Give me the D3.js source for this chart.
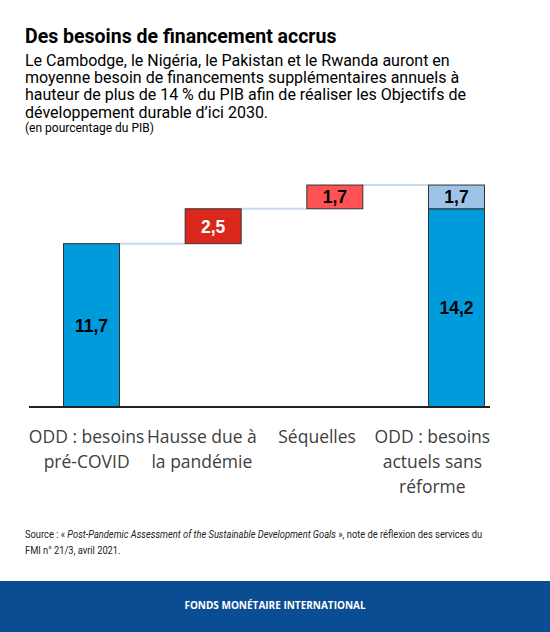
<!DOCTYPE html>
<html>

<head>
    <meta charset="utf-8">
    <title>Des besoins de financement accrus</title>
    <script src="https://d3js.org/d3.v7.min.js"></script>
    <style>
        body {
            margin: 0;
            background: #fff;
        }

        .title {
            font-family: Roboto, sans-serif;
            font-weight: 700;
            font-size: 19.5px;
            fill: #000;
        }

        .subtitle {
            font-family: Roboto, sans-serif;
            font-size: 16px;
            fill: #000;
        }

        .unit {
            font-family: Roboto, sans-serif;
            font-size: 12px;
            fill: #000;
        }

        .catLabel {
            font-family: "Open Sans", sans-serif;
            font-size: 17.5px;
            fill: #404040;
        }

        .barLabel {
            font-family: "Liberation Sans", Arial, sans-serif;
            font-weight: 700;
            font-size: 17.5px;
        }

        .source {
            font-family: Roboto, sans-serif;
            font-size: 10.5px;
            fill: #222;
        }

        .footer {
            font-family: "Open Sans", sans-serif;
            font-weight: 700;
            font-size: 10px;
            fill: #fff;
        }
    </style>
</head>

<body>
    <div id="chart"></div>

    <script>
        const width = 550, height = 632

        // categories and their axis labels (line by line)
        const categories = ["preCovid", "pandemie", "sequelles", "actuels"]
        const categoryLines = [
            ["ODD : besoins", "pré-COVID"],
            ["Hausse due à", "la pandémie"],
            ["Séquelles"],
            ["ODD : besoins", "actuels sans", "réforme"]
        ]
        // waterfall steps (en % du PIB)
        const stepValues = [11.7, 2.5, 1.7]
        const stepColors = ["#009bdb", "#da291c", "#ff5252"]
        const stepTextColors = ["#000", "#fff", "#000"]
        // last bar: stacked parts
        const finalParts = [14.2, 1.7]
        const finalColors = ["#009bdb", "#9dc3e6"]

        const subtitleLines = [
            "Le Cambodge, le Nigéria, le Pakistan et le Rwanda auront en",
            "moyenne besoin de financements supplémentaires annuels à",
            "hauteur de plus de 14 % du PIB afin de réaliser les Objectifs de",
            "développement durable d’ici 2030."
        ]

        const fmt = v => d3.format(".1f")(v).replace(".", ",")

        const svg = d3.select("#chart")
            .append("svg")
            .attr("width", width)
            .attr("height", height)

        // Titles
        svg.append("text").attr("class", "title")
            .attr("x", 25).attr("y", 43)
            .text("Des besoins de financement accrus")

        svg.append("g").selectAll("text")
            .data(subtitleLines)
            .join("text")
            .attr("class", "subtitle")
            .attr("x", 25)
            .attr("y", (d, i) => 65.5 + i * 17.4)
            .text(d => d)

        svg.append("text").attr("class", "unit")
            .attr("x", 25).attr("y", 132)
            .text("(en pourcentage du PIB)")

        // Scales
        const y = d3.scaleLinear()
            .domain([0, 16])
            .range([407, 407 - 16 * 13.96])

        // bars sit on a slightly wider grid than the labels
        const xBar = d3.scalePoint()
            .domain(categories)
            .range([91.5, 456.5])
        const barWidth = 56

        const xLabel = d3.scaleBand()
            .domain(categories)
            .range([29, 490])

        // build the segments
        const segments = []
        let running = 0
        stepValues.forEach((v, i) => {
            const start = i === 0 ? 0 : running
            segments.push({
                cat: categories[i], start: start, end: start + v, value: v,
                color: stepColors[i], textColor: stepTextColors[i]
            })
            running = start + v
        })
        let acc = 0
        finalParts.forEach((v, i) => {
            segments.push({
                cat: categories[3], start: acc, end: acc + v, value: v,
                color: finalColors[i], textColor: "#000"
            })
            acc += v
        })

        // connector lines between bars
        const connectors = []
        running = 0
        stepValues.forEach((v, i) => {
            running += v
            connectors.push({ from: categories[i], to: categories[i + 1], level: running })
        })

        svg.append("g").selectAll("line")
            .data(connectors)
            .join("line")
            .attr("x1", d => xBar(d.from) + barWidth / 2)
            .attr("x2", d => xBar(d.to) - barWidth / 2)
            .attr("y1", d => y(d.level))
            .attr("y2", d => y(d.level))
            .attr("stroke", "#c9d9ee")
            .attr("stroke-width", 2)

        const bars = svg.append("g")
        bars.selectAll("rect")
            .data(segments)
            .join("rect")
            .attr("x", d => xBar(d.cat) - barWidth / 2)
            .attr("y", d => y(d.end))
            .attr("width", barWidth)
            .attr("height", d => y(d.start) - y(d.end))
            .attr("fill", d => d.color)
            .attr("stroke", "#333")
            .attr("stroke-width", 1)

        bars.selectAll("text")
            .data(segments)
            .join("text")
            .attr("class", "barLabel")
            .attr("x", d => xBar(d.cat))
            .attr("y", d => (y(d.start) + y(d.end)) / 2)
            .attr("dy", "0.36em")
            .attr("text-anchor", "middle")
            .attr("fill", d => d.textColor)
            .text(d => fmt(d.value))

        // baseline
        svg.append("line")
            .attr("x1", 29).attr("x2", 490)
            .attr("y1", y(0)).attr("y2", y(0))
            .attr("stroke", "#222")
            .attr("stroke-width", 2)

        // category labels
        const labels = svg.append("g").selectAll("text")
            .data(categories)
            .join("text")
            .attr("class", "catLabel")
            .attr("text-anchor", "middle")
            .attr("x", d => xLabel(d) + xLabel.bandwidth() / 2)
            .attr("y", 443)

        labels.selectAll("tspan")
            .data((d, i) => categoryLines[i])
            .join("tspan")
            .attr("x", function () { return d3.select(this.parentNode).attr("x") })
            .attr("dy", (d, i) => i === 0 ? 0 : 25)
            .text(d => d)

        // source, squeezed horizontally (condensed face in the original)
        const srcGroup = svg.append("g")
            .attr("transform", "translate(25,0) scale(0.888,1)")
        const src = srcGroup.append("text").attr("class", "source")
            .attr("x", 0).attr("y", 538)
        src.append("tspan").text("Source : « ")
        src.append("tspan").attr("font-style", "italic")
            .text("Post-Pandemic Assessment of the Sustainable Development Goals")
        src.append("tspan").text(" », note de réflexion des services du")

        srcGroup.append("text").attr("class", "source")
            .attr("x", 0).attr("y", 554)
            .text("FMI n° 21/3, avril 2021.")

        // footer band
        svg.append("rect")
            .attr("x", 0).attr("y", 581)
            .attr("width", width).attr("height", height - 581)
            .attr("fill", "#0b4d93")

        svg.append("text").attr("class", "footer")
            .attr("x", width / 2).attr("y", 609)
            .attr("text-anchor", "middle")
            .text("FONDS MONÉTAIRE INTERNATIONAL")
    </script>

</body>

</html>
